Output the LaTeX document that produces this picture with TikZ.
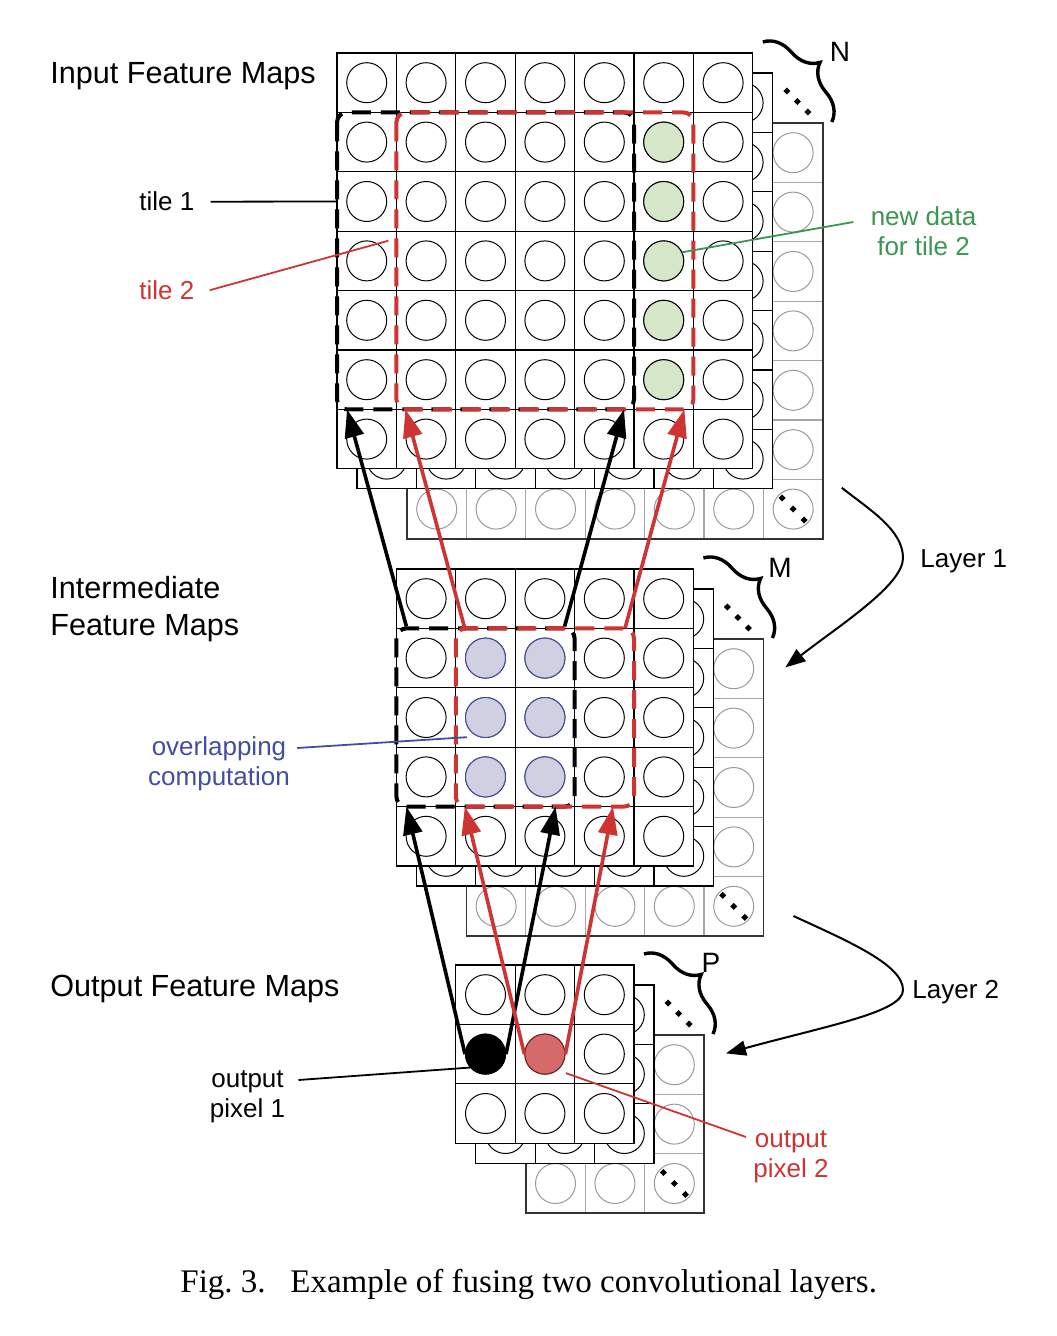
\documentclass[tikz,border=0pt]{standalone}
\usepackage{fontspec}
\setmainfont{Liberation Sans}
\newfontfamily\capfont{Liberation Serif}
\usetikzlibrary{calc,arrows.meta,decorations.pathreplacing}

\definecolor{tilered}{RGB}{206,52,50}
\definecolor{newgreen}{RGB}{58,150,80}
\definecolor{newfill}{RGB}{214,230,201}
\definecolor{ovblue}{RGB}{66,78,158}
\definecolor{ovfill}{RGB}{208,208,226}
\definecolor{pixred}{RGB}{212,106,106}

\begin{document}
\begin{tikzpicture}[x=0.5pt,y=-0.5pt,
  cell/.style={draw=black,fill=white,line width=0.65pt},
  cellc/.style={circle,draw=black,line width=0.5pt,minimum size=20pt,inner sep=0pt},
  backcell/.style={draw=black!35,line width=0.6pt},
  backc/.style={draw=black!40,line width=0.5pt},
  backframe/.style={draw=black!80,line width=0.8pt},
  newdat/.style={fill=newfill,draw=black,line width=0.5pt},
  ovl/.style={fill=ovfill,draw=ovblue,line width=0.5pt},
  pixone/.style={fill=black,draw=black,line width=0.5pt},
  pixtwo/.style={fill=pixred,draw=tilered!60!black,line width=0.5pt},
  tileone/.style={draw=black,line width=2pt,dash pattern=on 9.5pt off 5pt,rounded corners=5pt},
  tiletwo/.style={tileone,draw=tilered},
  fwd/.style={line width=1.8pt,-{Triangle[length=14pt,width=9.5pt]}},
  layarrow/.style={line width=1pt,-{Triangle[length=10pt,width=7.5pt]}},
  mapbrace/.style={decorate,decoration={brace,amplitude=15pt},line width=1.7pt},
  title/.style={font=\fontsize{15.3}{18.4}\selectfont,align=left,anchor=base west,inner sep=0pt},
  lbl/.style={font=\fontsize{13}{15}\selectfont,align=center,anchor=base,inner sep=0pt},
  maplbl/.style={font=\fontsize{14}{16}\selectfont,anchor=base,inner sep=0pt},
  pointer/.style={line width=0.9pt}
]
  \useasboundingbox (0,0) rectangle (1056,1336);
  \def\cs{59.4} % cell size
  % #1 name, #2 left, #3 top, #4 cells per side
  \def\fmaps#1#2#3#4{
    \foreach \i in {1,...,#4}{
      \foreach \j in {1,...,#4}{
        \draw[backcell] ({#2+70+(\i-1)*\cs},{#3+70+(\j-1)*\cs}) rectangle ++(\cs,\cs);
        \draw[backc] ({#2+70+(\i-0.5)*\cs},{#3+70+(\j-0.5)*\cs}) circle (10pt);
      }
    }
    \draw[backframe] (#2+70,#3+70) rectangle ++({#4*\cs},{#4*\cs});
    \foreach \k in {-1,0,1}
      \fill ({#2+70+(#4-0.5)*\cs+11*\k},{#3+70+(#4-0.5)*\cs+11*\k})
        +(-3.5,0) -- +(0,-3.5) -- +(3.5,0) -- +(0,3.5) -- cycle;
    \foreach \i in {1,...,#4}{
      \foreach \j in {1,...,#4}{
        \draw[cell] ({#2+20+(\i-1)*\cs},{#3+20+(\j-1)*\cs}) rectangle ++(\cs,\cs);
        \draw[line width=0.5pt] ({#2+20+(\i-0.5)*\cs},{#3+20+(\j-0.5)*\cs}) circle (10pt);
      }
    }
    \foreach \i in {1,...,#4}{
      \foreach \j in {1,...,#4}{
        \draw[cell] ({#2+(\i-1)*\cs},{#3+(\j-1)*\cs}) rectangle ++(\cs,\cs);
        \node[cellc] (#1-o-\i-\j) at ({#2+(\i-0.5)*\cs},{#3+(\j-0.5)*\cs}) {};
      }
    }
    \foreach \i in {0,...,#4}{
      \foreach \j in {0,...,#4}{
        \coordinate (#1-\i-\j) at ({#2+\i*\cs},{#3+\j*\cs});
      }
    }
    \foreach \k in {0,1,2}
      \fill ({#2+#4*\cs+34+10.5*\k},{#3+38+10.5*\k})
        +(-3.5,0) -- +(0,-3.5) -- +(3.5,0) -- +(0,3.5) -- cycle;
    \draw[mapbrace] ({#2+#4*\cs+10},{#3-11}) -- ({#2+#4*\cs+79},{#3+69});
  }

  \fmaps{in}{337}{53}{7}
  \fmaps{im}{396.4}{569}{5}
  \fmaps{ou}{455.8}{965}{3}

  \foreach \j in {2,...,6}
    \filldraw[newdat] (in-o-6-\j.center) circle (10pt);
  \foreach \i in {2,3}
    \foreach \j in {2,3,4}
      \filldraw[ovl] (im-o-\i-\j.center) circle (10pt);
  \filldraw[pixone] (ou-o-1-2.center) circle (10pt);
  \filldraw[pixtwo] (ou-o-2-2.center) circle (10pt);

  % tiles
  \draw[tileone] (in-0-1) rectangle (in-5-6);
  \draw[tiletwo] (in-1-1) rectangle (in-6-6);
  \draw[tileone] (im-0-1) rectangle (im-3-4);
  \draw[tiletwo] (im-1-1) rectangle (im-4-4);

  \draw[fwd] ($(im-0-1)+(10,-2)$) -- ($(in-0-6)+(10,0)$);
  \draw[fwd] ($(im-3-1)+(-10,-2)$) -- ($(in-5-6)+(-10,0)$);
  \draw[fwd,tilered] ($(im-1-1)+(9,0)$) -- ($(in-1-6)+(9,0)$);
  \draw[fwd,tilered] ($(im-4-1)+(-9,0)$) -- ($(in-6-6)+(-9,0)$);

  \draw[fwd] (ou-o-1-2.west) -- ($(im-0-4)+(10,0)$);
  \draw[fwd] (ou-o-1-2.east) -- ($(im-3-4)+(-19,0)$);
  \draw[fwd,tilered] (ou-o-2-2.west) -- ($(im-1-4)+(9,0)$);
  \draw[fwd,tilered] (ou-o-2-2.east) -- ($(im-4-4)+(-21,0)$);

  % layers
  \coordinate (l1a) at ($(in-7-7)+(89,19)$);
  \coordinate (l1b) at ($(im-5-1)+(92,39)$);
  \draw[layarrow] (l1a) .. controls (870,510) and (903,530) .. (903,558)
    .. controls (903,585) and (840,625) .. (l1b);
  \coordinate (l2a) at ($(im-5-5)+(100,50)$);
  \coordinate (l2b) at ($(ou-3-1)+(92,29)$);
  \draw[layarrow] (l2a) .. controls (850,942) and (903,965) .. (903,990)
    .. controls (903,1012) and (830,1025) .. (l2b);
  \node[lbl,anchor=base west] (lay1) at (920,567) {Layer 1};
  \node[lbl,anchor=base west] (lay2) at (912,998) {Layer 2};

  % labels
  \node[title] (inmaps) at (50,84) {Input Feature Maps};
  \node[title] (immaps) at (50,635) {Intermediate\\Feature Maps};
  \node[title] (oumaps) at (50,996) {Output Feature Maps};
  \node[maplbl] (nlab) at (840,62) {N};
  \node[maplbl] (mlab) at (780,577) {M};
  \node[maplbl] (plab) at (711,972) {P};

  \node[lbl,anchor=base west] (lbone) at (139,211) {tile 1};
  \node[lbl,anchor=base west,text=tilered] (lbtwo) at (139,299.5) {tile 2};
  \draw[pointer] ([xshift=8pt]lbone.east) -- ($(in-0-2)!0.5!(in-0-3)$);
  \draw[pointer,tilered] ([xshift=7.5pt]lbtwo.east) -- ($(in-1-3)+(-8,9.5)$);

  \node[lbl,text=newgreen] (newd) at (923.5,256) {new data\\for tile 2};
  \draw[pointer,newgreen] ($(newd.base west)+(-17,-34)$) -- (in-o-6-4.25);

  \node[lbl,text=ovblue] (ovlab) at (219,785) {overlapping\\computation};
  \draw[pointer,ovblue] ($(ovlab.base east)+(7,-37)$) -- ($(im-1-3)+(11,-10)$);

  \node[lbl] (pxone) at (247.5,1117) {output\\pixel 1};
  \draw[pointer] ($(pxone.base east)+(13,-37)$) -- (ou-o-1-2.221);
  \node[lbl,text=tilered] (pxtwo) at (791,1177) {output\\pixel 2};
  \draw[pointer,tilered] ($(ou-o-2-2.center)+(21,19)$) -- ($(pxtwo.base west)+(-7,-40)$);

  \node[anchor=base west,inner sep=0pt,font=\capfont\fontsize{16.5}{20}\selectfont] (cap) at (180,1292)
    {Fig.~3.\hspace{0.75em}Example of fusing two convolutional layers.};
\end{tikzpicture}
\end{document}
